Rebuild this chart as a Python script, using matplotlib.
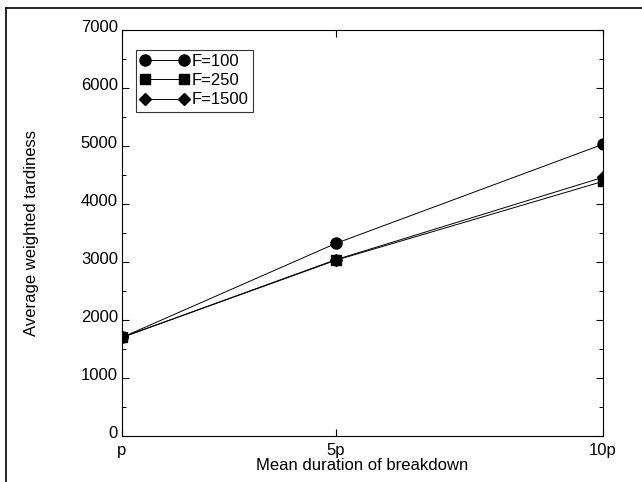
import matplotlib
matplotlib.use("Agg")
from matplotlib import pyplot as plt
from matplotlib.lines import Line2D
from matplotlib.ticker import MultipleLocator
import matplotlib.transforms as mtrans

# data
x_labels = ['p', '5p', '10p']
x_pos = [1, 5, 10]
f100 = [1700, 3320, 5030]
f250 = [1700, 3030, 4390]
f1500 = [1700, 3040, 4460]
series = [('F=100', f100, 'o', 8), ('F=250', f250, 's', 7), ('F=1500', f1500, 'D', 6.5)]

plt.rcParams['font.family'] = ['Liberation Sans', 'DejaVu Sans']

W, H = 642, 482
fig = plt.figure(figsize=(W/100, H/100), dpi=100)
# axes box in pixels: left 122, right 603, top 30, bottom 436
ax = fig.add_axes([122/W, 1 - 436/H, 481/W, 406/H])

for name, vals, mk, ms in series:
    ax.plot(x_pos, vals, color='black', lw=0.7, marker=mk, ms=ms,
            mfc='black', mec='black', label=name)

ax.set_xlim(1, 10)
ax.set_ylim(0, 7000)
ax.set_xticks(x_pos)
ax.set_xticklabels(x_labels)
ax.set_yticks(range(0, 7001, 1000))
ax.yaxis.set_minor_locator(MultipleLocator(500))
ax.tick_params(which='major', direction='in', top=True, right=True,
               length=5, width=0.8, labelsize=12)
ax.tick_params(which='minor', direction='in', right=True, length=3, width=0.7)
ax.tick_params(axis='x', pad=5)
ax.tick_params(axis='y', pad=3)
for s in ax.spines.values():
    s.set_linewidth(0.8)

# y tick labels sit a little above their ticks in the original
up = mtrans.ScaledTranslation(0, 3/72, fig.dpi_scale_trans)
for lab in ax.get_yticklabels():
    lab.set_transform(lab.get_transform() + up)

ax.set_xlabel('Mean duration of breakdown', fontsize=12, labelpad=0)
ax.set_ylabel('Average weighted tardiness', fontsize=12, labelpad=30)

leg = ax.legend(loc='upper left', bbox_to_anchor=(14/481, 1 - 20/406), fontsize=12,
                frameon=True, fancybox=False, edgecolor='black',
                handlelength=2.9, handletextpad=0.2, borderpad=0.25,
                labelspacing=0.25, numpoints=2, borderaxespad=0)
leg.get_frame().set_linewidth(0.8)

# frame lines of the scanned page: top and left edge only
fig.add_artist(Line2D([6/W, 1], [1 - 8/H, 1 - 8/H], transform=fig.transFigure,
                      color='black', lw=1.2))
fig.add_artist(Line2D([6/W, 6/W], [0, 1 - 8/H], transform=fig.transFigure,
                      color='black', lw=1.2))

fig.savefig('out.png', dpi=100)
